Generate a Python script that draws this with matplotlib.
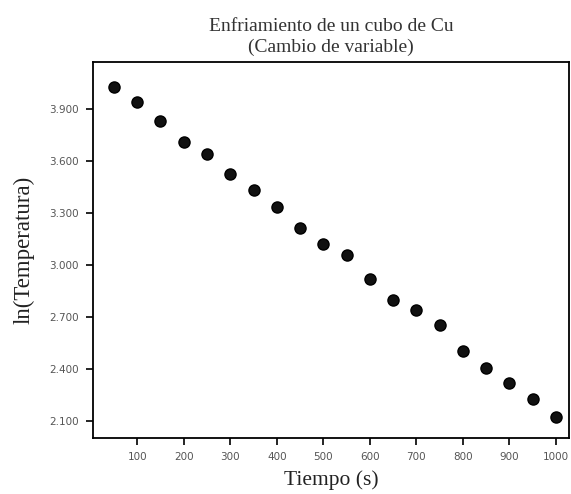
import matplotlib
matplotlib.use('Agg')
import matplotlib.pyplot as plt
from matplotlib.ticker import FixedLocator, FormatStrFormatter

# data
tiempo = [50, 100, 150, 200, 250, 300, 350, 400, 450, 500,
          550, 600, 650, 700, 750, 800, 850, 900, 950, 1000]
ln_temp = [4.028, 3.942, 3.827, 3.710, 3.639, 3.526, 3.430, 3.333, 3.212, 3.122,
           3.056, 2.917, 2.796, 2.739, 2.652, 2.504, 2.403, 2.316, 2.224, 2.121]
xticks = [100, 200, 300, 400, 500, 600, 700, 800, 900, 1000]
yticks = [2.1, 2.4, 2.7, 3.0, 3.3, 3.6, 3.9]

fig = plt.figure(figsize=(5.71, 4.94), dpi=100)
ax = fig.add_axes([93 / 571, 56 / 494, 476 / 571, 376 / 494])

ax.plot(tiempo, ln_temp, 'o', color='#111111', markersize=8,
        markeredgecolor='black')

ax.set_xlim(5, 1028)
ax.set_ylim(2.0, 4.17)
ax.xaxis.set_major_locator(FixedLocator(xticks))
ax.yaxis.set_major_locator(FixedLocator(yticks))
ax.yaxis.set_major_formatter(FormatStrFormatter('%.3f'))
ax.tick_params(direction='out', length=5, width=1.2, labelsize=7.5,
               labelcolor='#555555', top=False, right=False, pad=5)
for lab in ax.get_xticklabels() + ax.get_yticklabels():
    lab.set_fontfamily('DejaVu Sans')
for s in ax.spines.values():
    s.set_linewidth(1.3)

ax.set_title('Enfriamiento de un cubo de Cu\n(Cambio de variable)',
             fontfamily='Liberation Serif', fontsize=14, color='#333333',
             linespacing=1.3, pad=7)
ax.set_xlabel('Tiempo (s)', fontfamily='Liberation Serif', fontsize=15.5,
              color='#222222', labelpad=6)
ax.set_ylabel('ln(Temperatura)', fontfamily='Liberation Serif', fontsize=16.5,
              color='#222222', labelpad=11)

fig.savefig('out.png', dpi=100)
